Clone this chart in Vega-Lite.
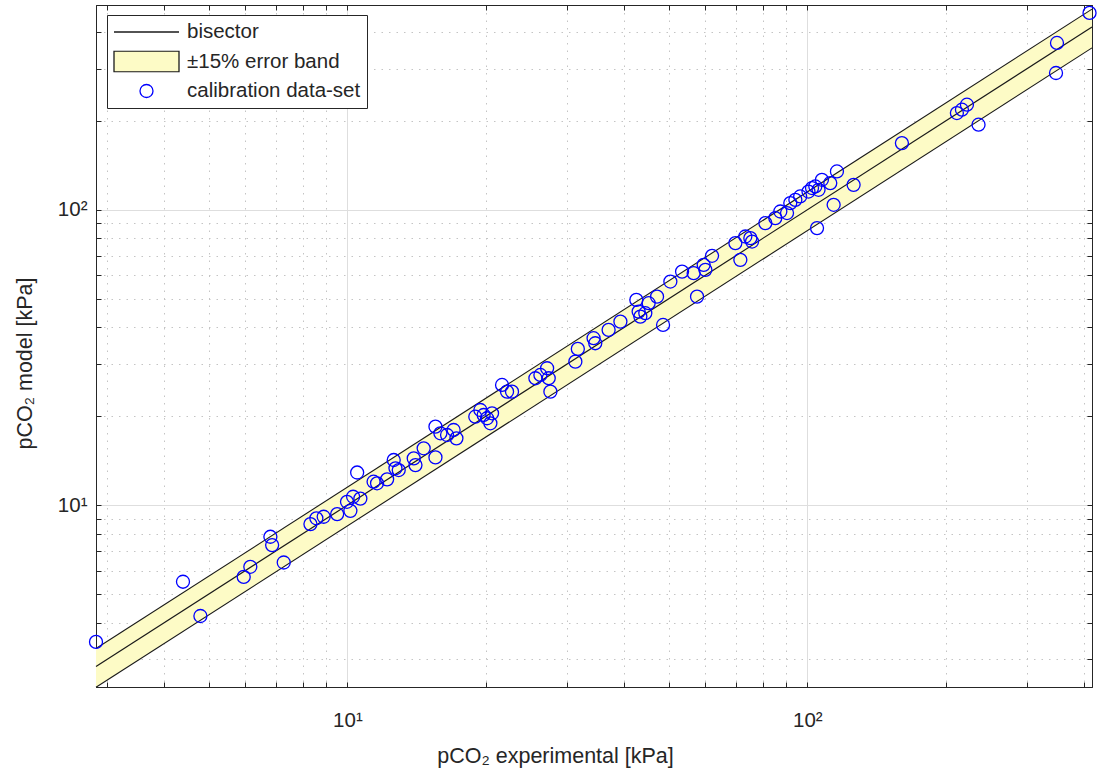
{
  "$schema": "https://vega.github.io/schema/vega-lite/v6.json",
  "width": 996,
  "height": 682,
  "autosize": "none",
  "padding": {"left": 96, "top": 5, "right": 5, "bottom": 87},
  "background": "white",
  "config": {
    "view": {"stroke": "#262626", "strokeWidth": 1},
    "font": "Liberation Sans"
  },
  "datasets": {
    "band": [
      {"x": 2.84, "lo": 2.414, "mid": 2.84, "hi": 3.266},
      {"x": 416, "lo": 353.6, "mid": 416, "hi": 478.4}
    ],
    "pts": [
      {"exp": 2.84, "model": 3.44, "series": "calibration data-set"},
      {"exp": 4.39, "model": 5.5, "series": "calibration data-set"},
      {"exp": 4.79, "model": 4.21, "series": "calibration data-set"},
      {"exp": 5.95, "model": 5.71, "series": "calibration data-set"},
      {"exp": 6.15, "model": 6.18, "series": "calibration data-set"},
      {"exp": 6.8, "model": 7.81, "series": "calibration data-set"},
      {"exp": 6.86, "model": 7.32, "series": "calibration data-set"},
      {"exp": 7.27, "model": 6.39, "series": "calibration data-set"},
      {"exp": 8.31, "model": 8.62, "series": "calibration data-set"},
      {"exp": 8.56, "model": 9.02, "series": "calibration data-set"},
      {"exp": 8.88, "model": 9.13, "series": "calibration data-set"},
      {"exp": 9.5, "model": 9.32, "series": "calibration data-set"},
      {"exp": 9.98, "model": 10.26, "series": "calibration data-set"},
      {"exp": 10.15, "model": 9.56, "series": "calibration data-set"},
      {"exp": 10.29, "model": 10.67, "series": "calibration data-set"},
      {"exp": 10.67, "model": 10.52, "series": "calibration data-set"},
      {"exp": 10.5, "model": 12.89, "series": "calibration data-set"},
      {"exp": 11.4, "model": 12.0, "series": "calibration data-set"},
      {"exp": 11.6, "model": 11.85, "series": "calibration data-set"},
      {"exp": 12.2, "model": 12.22, "series": "calibration data-set"},
      {"exp": 12.61, "model": 14.21, "series": "calibration data-set"},
      {"exp": 12.72, "model": 13.32, "series": "calibration data-set"},
      {"exp": 12.93, "model": 13.14, "series": "calibration data-set"},
      {"exp": 13.94, "model": 14.39, "series": "calibration data-set"},
      {"exp": 14.06, "model": 13.66, "series": "calibration data-set"},
      {"exp": 14.65, "model": 15.57, "series": "calibration data-set"},
      {"exp": 15.54, "model": 14.5, "series": "calibration data-set"},
      {"exp": 15.54, "model": 18.43, "series": "calibration data-set"},
      {"exp": 15.93, "model": 17.5, "series": "calibration data-set"},
      {"exp": 16.47, "model": 17.27, "series": "calibration data-set"},
      {"exp": 17.02, "model": 17.96, "series": "calibration data-set"},
      {"exp": 17.26, "model": 16.83, "series": "calibration data-set"},
      {"exp": 18.97, "model": 19.92, "series": "calibration data-set"},
      {"exp": 19.46, "model": 20.99, "series": "calibration data-set"},
      {"exp": 19.78, "model": 20.19, "series": "calibration data-set"},
      {"exp": 20.12, "model": 19.68, "series": "calibration data-set"},
      {"exp": 20.46, "model": 18.92, "series": "calibration data-set"},
      {"exp": 20.63, "model": 20.46, "series": "calibration data-set"},
      {"exp": 21.69, "model": 25.52, "series": "calibration data-set"},
      {"exp": 22.24, "model": 24.22, "series": "calibration data-set"},
      {"exp": 22.8, "model": 24.22, "series": "calibration data-set"},
      {"exp": 25.63, "model": 26.89, "series": "calibration data-set"},
      {"exp": 26.28, "model": 27.59, "series": "calibration data-set"},
      {"exp": 27.18, "model": 29.07, "series": "calibration data-set"},
      {"exp": 27.4, "model": 26.89, "series": "calibration data-set"},
      {"exp": 27.63, "model": 24.22, "series": "calibration data-set"},
      {"exp": 31.31, "model": 30.6, "series": "calibration data-set"},
      {"exp": 31.7, "model": 33.8, "series": "calibration data-set"},
      {"exp": 34.3, "model": 36.74, "series": "calibration data-set"},
      {"exp": 34.59, "model": 35.33, "series": "calibration data-set"},
      {"exp": 36.98, "model": 39.2, "series": "calibration data-set"},
      {"exp": 39.23, "model": 41.82, "series": "calibration data-set"},
      {"exp": 42.49, "model": 49.54, "series": "calibration data-set"},
      {"exp": 42.98, "model": 45.21, "series": "calibration data-set"},
      {"exp": 43.35, "model": 43.48, "series": "calibration data-set"},
      {"exp": 44.44, "model": 44.65, "series": "calibration data-set"},
      {"exp": 45.19, "model": 48.28, "series": "calibration data-set"},
      {"exp": 47.13, "model": 50.81, "series": "calibration data-set"},
      {"exp": 48.57, "model": 40.75, "series": "calibration data-set"},
      {"exp": 50.38, "model": 57.15, "series": "calibration data-set"},
      {"exp": 53.42, "model": 61.78, "series": "calibration data-set"},
      {"exp": 56.61, "model": 61.02, "series": "calibration data-set"},
      {"exp": 57.58, "model": 50.81, "series": "calibration data-set"},
      {"exp": 59.52, "model": 65.11, "series": "calibration data-set"},
      {"exp": 60.03, "model": 62.61, "series": "calibration data-set"},
      {"exp": 62.07, "model": 69.86, "series": "calibration data-set"},
      {"exp": 69.76, "model": 77.13, "series": "calibration data-set"},
      {"exp": 71.52, "model": 67.7, "series": "calibration data-set"},
      {"exp": 73.33, "model": 81.22, "series": "calibration data-set"},
      {"exp": 75.19, "model": 80.17, "series": "calibration data-set"},
      {"exp": 75.84, "model": 78.07, "series": "calibration data-set"},
      {"exp": 81.06, "model": 90.15, "series": "calibration data-set"},
      {"exp": 85.2, "model": 93.74, "series": "calibration data-set"},
      {"exp": 87.37, "model": 98.7, "series": "calibration data-set"},
      {"exp": 90.35, "model": 97.5, "series": "calibration data-set"},
      {"exp": 91.84, "model": 105.4, "series": "calibration data-set"},
      {"exp": 94.2, "model": 108.1, "series": "calibration data-set"},
      {"exp": 96.5, "model": 111.0, "series": "calibration data-set"},
      {"exp": 100.6, "model": 115.3, "series": "calibration data-set"},
      {"exp": 102.4, "model": 118.5, "series": "calibration data-set"},
      {"exp": 104.1, "model": 120.0, "series": "calibration data-set"},
      {"exp": 105.8, "model": 116.9, "series": "calibration data-set"},
      {"exp": 107.6, "model": 126.4, "series": "calibration data-set"},
      {"exp": 112.2, "model": 123.2, "series": "calibration data-set"},
      {"exp": 116.0, "model": 134.9, "series": "calibration data-set"},
      {"exp": 114.1, "model": 104.0, "series": "calibration data-set"},
      {"exp": 126.1, "model": 121.5, "series": "calibration data-set"},
      {"exp": 105.0, "model": 86.7, "series": "calibration data-set"},
      {"exp": 160.6, "model": 168.3, "series": "calibration data-set"},
      {"exp": 211.5, "model": 212.7, "series": "calibration data-set"},
      {"exp": 216.9, "model": 218.3, "series": "calibration data-set"},
      {"exp": 222.4, "model": 227.0, "series": "calibration data-set"},
      {"exp": 235.7, "model": 194.2, "series": "calibration data-set"},
      {"exp": 349.1, "model": 367.4, "series": "calibration data-set"},
      {"exp": 347.4, "model": 290.7, "series": "calibration data-set"},
      {"exp": 410.9, "model": 464.5, "series": "calibration data-set"}
    ]
  },
  "layer": [
    {
      "data": {"name": "band"},
      "mark": {"type": "area", "color": "#fdfbc6", "opacity": 1},
      "encoding": {
        "x": {
          "field": "x", "type": "quantitative",
          "scale": {"type": "log", "domain": [2.84, 416], "nice": false, "zero": false},
          "axis": {
            "orient": "bottom",
            "values": [3,4,5,6,7,8,9,10,20,30,40,50,60,70,80,90,100,200,300,400],
            "labelExpr": "datum.value == 10 ? '10¹' : (datum.value == 100 ? '10²' : '')",
            "labelOverlap": false, "labelFlush": false,
            "labelFontSize": 20.5, "labelColor": "#262626", "labelPadding": 28, "labelBaseline": "top",
            "tickSize": -5, "tickColor": "#262626", "domainColor": "#262626",
            "grid": true,
            "gridColor": {"condition": {"test": "datum.value == 10 || datum.value == 100", "value": "#dedede"}, "value": "#c4c4c4"},
            "gridDash": {"condition": {"test": "datum.value == 10 || datum.value == 100", "value": []}, "value": [1.5, 6]},
            "title": "pCO₂ experimental [kPa]",
            "titleFontSize": 21.5, "titleFontWeight": "normal", "titleColor": "#262626",
            "titleX": 459, "titleY": 75, "titleBaseline": "alphabetic", "titleAlign": "center"
          }
        },
        "y": {
          "field": "lo", "type": "quantitative",
          "scale": {"type": "log", "domain": [2.42, 494], "nice": false, "zero": false},
          "axis": {
            "orient": "left",
            "values": [3,4,5,6,7,8,9,10,20,30,40,50,60,70,80,90,100,200,300,400],
            "labelExpr": "datum.value == 10 ? '10¹' : (datum.value == 100 ? '10²' : '')",
            "labelOverlap": false, "labelFlush": false,
            "labelFontSize": 20.5, "labelColor": "#262626", "labelPadding": 14,
            "tickSize": -5, "tickColor": "#262626", "domainColor": "#262626",
            "grid": true,
            "gridColor": {"condition": {"test": "datum.value == 10 || datum.value == 100", "value": "#dedede"}, "value": "#c4c4c4"},
            "gridDash": {"condition": {"test": "datum.value == 10 || datum.value == 100", "value": []}, "value": [1.5, 6]},
            "title": "pCO₂ model [kPa]",
            "titleFontSize": 21.5, "titleFontWeight": "normal", "titleColor": "#262626",
            "titleX": -71, "titleY": 358, "titleBaseline": "middle", "titleAlign": "center", "titleAngle": -90
          }
        },
        "y2": {"field": "hi"}
      }
    },
    {
      "data": {"name": "band"},
      "mark": {"type": "line", "color": "#1a1a1a", "strokeWidth": 1.1},
      "encoding": {
        "x": {
          "field": "x", "type": "quantitative",
          "scale": {"type": "log", "domain": [2.84, 416], "nice": false, "zero": false},
          "axis": {
            "orient": "top",
            "values": [3,4,5,6,7,8,9,10,20,30,40,50,60,70,80,90,100,200,300,400],
            "labels": false, "grid": false, "tickSize": -5, "tickColor": "#262626", "domainColor": "#262626", "title": null
          }
        },
        "y": {
          "field": "lo", "type": "quantitative",
          "scale": {"type": "log", "domain": [2.42, 494], "nice": false, "zero": false},
          "axis": {
            "orient": "right",
            "values": [3,4,5,6,7,8,9,10,20,30,40,50,60,70,80,90,100,200,300,400],
            "labels": false, "grid": false, "tickSize": -5, "tickColor": "#262626", "domainColor": "#262626", "title": null
          }
        }
      }
    },
    {
      "data": {"name": "band"},
      "mark": {"type": "line", "color": "#1a1a1a", "strokeWidth": 1.1},
      "encoding": {
        "x": {"field": "x", "type": "quantitative", "axis": null},
        "y": {"field": "hi", "type": "quantitative", "axis": null}
      }
    },
    {
      "data": {"name": "band"},
      "mark": {"type": "line", "color": "#1a1a1a", "strokeWidth": 1.2},
      "encoding": {
        "x": {"field": "x", "type": "quantitative", "axis": null},
        "y": {"field": "mid", "type": "quantitative", "axis": null}
      }
    },
    {
      "data": {"name": "pts"},
      "mark": {"type": "point", "filled": true, "size": 4225, "strokeWidth": 1.3, "opacity": 1},
      "encoding": {
        "x": {"field": "exp", "type": "quantitative", "axis": null},
        "y": {"field": "model", "type": "quantitative", "axis": null},
        "shape": {
          "field": "series", "type": "nominal",
          "scale": {
            "domain": ["bisector", "±15% error band", "calibration data-set"],
            "range": ["M-1,0H1", "M-1,-0.32H1V0.32H-1Z", "M0.2,0A0.2,0.2,0,1,1,-0.2,0A0.2,0.2,0,1,1,0.2,0Z"]
          },
          "legend": {
            "title": null, "orient": "none", "legendX": 11, "legendY": 10,
            "columns": 1, "clipHeight": 22, "rowPadding": 7.5,
            "symbolSize": 4225, "symbolStrokeWidth": 1.3, "labelOffset": 7,
            "labelFontSize": 20.5, "labelColor": "#262626", "labelFont": "Liberation Sans", "labelLimit": 400,
            "padding": 6, "strokeColor": "#262626", "fillColor": "white"
          }
        },
        "stroke": {
          "field": "series", "type": "nominal",
          "scale": {
            "domain": ["bisector", "±15% error band", "calibration data-set"],
            "range": ["#1a1a1a", "#1a1a1a", "#0000ff"]
          }
        },
        "fill": {
          "field": "series", "type": "nominal",
          "scale": {
            "domain": ["bisector", "±15% error band", "calibration data-set"],
            "range": ["transparent", "#fdfbc6", "transparent"]
          }
        }
      }
    }
  ],
  "resolve": {"axis": {"x": "independent", "y": "independent"}}
}
